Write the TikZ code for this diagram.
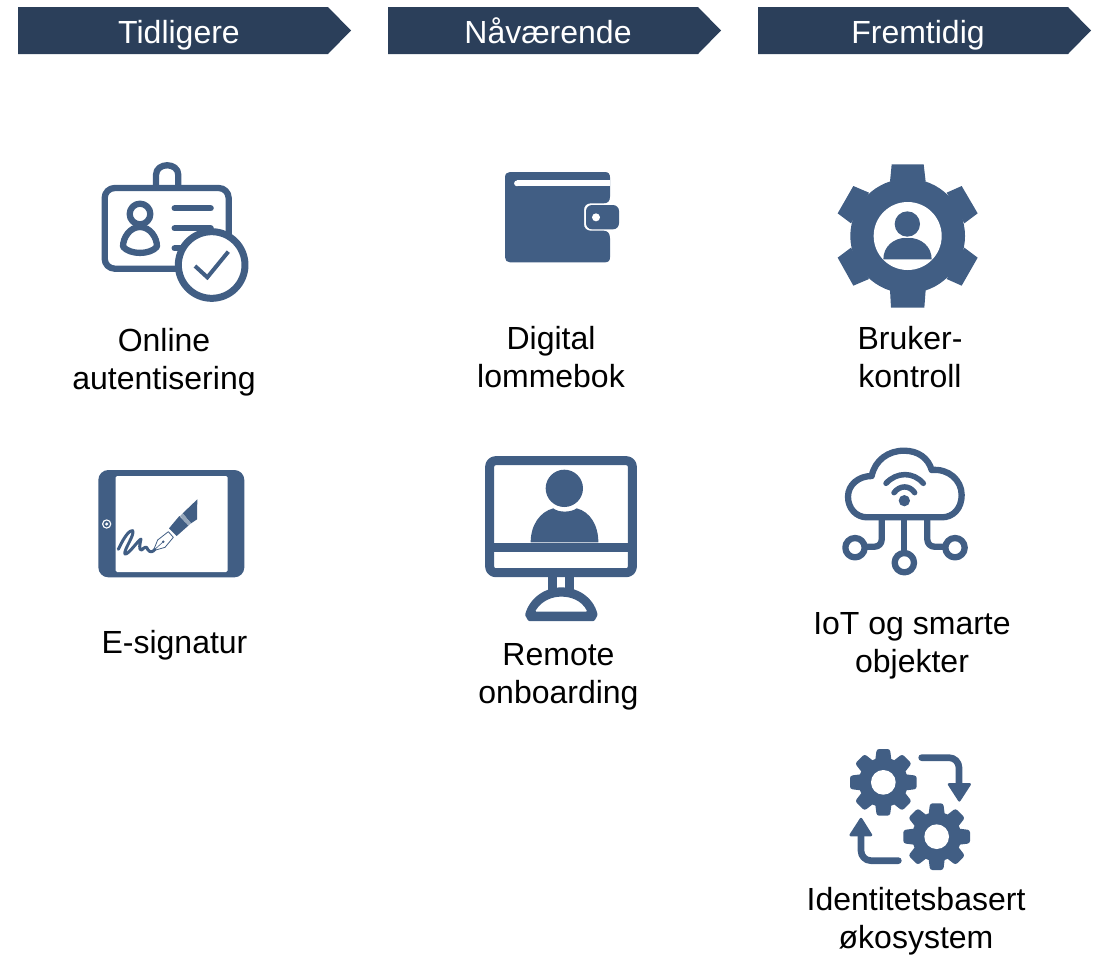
\documentclass[tikz,border=0pt]{standalone}
\usepackage{fontspec}
\setmainfont{Liberation Sans}
\definecolor{iconblue}{HTML}{415E84}
\definecolor{bannerblue}{HTML}{2B3F5A}
\tikzset{
  banner/.style={fill=bannerblue,draw=none},
  bannertext/.style={text=white,font=\fontsize{32}{38}\selectfont,inner sep=0pt,anchor=base},
  label/.style={text=black,font=\fontsize{32}{38}\selectfont,align=center,inner sep=0pt,anchor=center,text height=23pt,text depth=7pt},
  icon/.style={shift={#1},x=0.33333pt,y=-0.33333pt},
  ln/.style={draw=iconblue,line width=6.3pt,line cap=round,line join=round},
  fl/.style={fill=iconblue,draw=none}
}
\begin{document}
\begin{tikzpicture}[x=1pt,y=-1pt]
\useasboundingbox (0,0) rectangle (1099,954);
% banners
\foreach \x in {18,388,758}{
  \fill[banner] (\x,7) -- ++(310,0) -- ++(23,23.5) -- ++(-23,23.5) -- ++(-310,0) -- cycle;
}
\node[bannertext] (b1) at (179,43) {Tidligere};
\node[bannertext] (b2) at (548,43) {Nåværende};
\node[bannertext] (b3) at (918,43) {Fremtidig};
% labels
\node[label] (l1) at (164,381) {Online\\autentisering};
\node[label] (l2) at (174.5,645) {E-signatur};
\node[label] (l3) at (551,379) {Digital\\lommebok};
\node[label] (l4) at (558.5,695) {Remote\\onboarding};
\node[label] (l5) at (910,379) {Bruker-\\kontroll};
\node[label] (l6) at (912,664) {IoT og smarte\\objekter};
\node[label] (l7) at (916,940) {Identitetsbasert\\økosystem};

% ID card
\begin{scope}[icon={(80,150)}]
  \draw[ln] (228,105) -- (228,75) .. controls (228,36) and (295,36) .. (295,75) -- (295,105);
  \draw[ln,rounded corners=10pt] (74,114) rectangle (446,356);
  \draw[ln] (180,192) circle (31);
  \draw[ln] (180,231) .. controls (150,231) and (129,262) .. (129,290) .. controls (150,315) and (210,315) .. (231,290) .. controls (231,262) and (210,231) .. (180,231) -- cycle;
  \draw[ln] (284,175) -- (392,175);
  \draw[ln] (284,235) -- (392,235);
  \draw[ln] (284,295) -- (340,295);
  \draw[ln,line width=7pt,fill=white] (395,345) circle (100);
  \draw[draw=iconblue,line width=4pt,line join=miter] (345,348) -- (382,382) -- (445,305);
\end{scope}

% tablet
\begin{scope}[icon={(85,460)}]
  \fill[fl,rounded corners=10pt] (40,30) rectangle (478,352);
  \fill[white,rounded corners=1.5pt] (92,48) rectangle (428,336);
  \fill[white] (65,192) circle (14);
  \fill[fl] (65,192) circle (10);
  \fill[white] (65,192) circle (5);
  \fill[fl] (337,118) -- (336,178) -- (318,190) -- (293,160) -- cycle;
  \fill[iconblue!55] (293,160) -- (318,190) -- (310,197) -- (285,168) -- cycle;
  \fill[fl] (283,168) -- (310,197) -- (275,228) -- (252,205) -- cycle;
  \draw[iconblue,line width=0.8pt,fill=white,line join=round] (250,215) -- (265,232) -- (240,262) -- (205,272) -- (218,240) -- cycle;
  \draw[iconblue,line width=0.6pt] (205,272) -- (235,245);
  \fill[fl] (235,245) circle (4);
  \draw[iconblue,line width=3pt,line cap=round,line join=round]
    (100,268) .. controls (120,225) and (135,210) .. (143,212)
    .. controls (150,225) and (115,270) .. (120,282)
    .. controls (130,285) and (160,240) .. (168,237)
    .. controls (165,250) and (160,272) .. (170,270)
    .. controls (180,260) and (185,258) .. (188,268)
    .. controls (195,280) and (205,275) .. (210,268);
\end{scope}

% wallet
\begin{scope}[icon={(475,160)}]
  \fill[fl] (105,36) -- (390,36) .. controls (400,36) and (405,42) .. (405,52)
    -- (405,110) .. controls (405,124) and (398,130) .. (385,130)
    -- (347,130) .. controls (335,130) and (327,138) .. (327,150)
    -- (327,192) .. controls (327,204) and (335,212) .. (347,212)
    -- (385,212) .. controls (398,212) and (405,220) .. (405,235)
    -- (405,292) .. controls (405,302) and (400,307) .. (390,307)
    -- (105,307) .. controls (96,307) and (90,301) .. (90,292)
    -- (90,52) .. controls (90,42) and (96,36) .. (105,36) -- cycle;
  \fill[fl,rounded corners=6pt] (333,135) rectangle (432,208);
  \fill[white] (363,172) circle (12);
  \draw[white,line width=5.8pt,line cap=butt] (126,70) -- (405,70);
  \fill[white] (126,70) circle (8.7);
\end{scope}

% monitor
\begin{scope}[icon={(475,450)}]
  \draw[ln,line width=9pt,line cap=butt,rounded corners=6pt] (44,32) rectangle (472,368);
  \draw[ln,line width=9pt,line cap=butt] (44,291) -- (472,291);
  \fill[fl] (167,277) .. controls (167,225) and (195,185) .. (235,175) .. controls (250,188) and (288,188) .. (305,175) .. controls (345,185) and (370,225) .. (370,277) -- cycle;
  \fill[fl] (268,115) circle (56);
  \draw[ln,line width=9pt,line cap=butt] (233,380) -- (233,420);
  \draw[ln,line width=9pt,line cap=butt] (284,380) -- (284,420);
  \fill[fl,even odd rule,rounded corners=1pt] (160,513) -- (150,495) .. controls (165,440) and (215,412) .. (259,412) .. controls (305,412) and (355,440) .. (368,495) -- (358,513) -- cycle
     (180,485) .. controls (200,450) and (235,440) .. (259,440) .. controls (285,440) and (320,450) .. (337,485) -- cycle;
\end{scope}

% user gear
\begin{scope}[icon={(825,155)}]
  \fill[fl] (248,243) circle (172);
  \fill[fl] (200,28) -- (296,28) -- (302,80) -- (195,80) -- cycle;
  \fill[fl] (198,458) -- (298,458) -- (302,405) -- (195,405) -- cycle;
  \fill[fl] (85,93) -- (38,175) -- (78,205) -- (132,113) -- cycle;
  \fill[fl] (410,93) -- (458,175) -- (418,205) -- (365,113) -- cycle;
  \fill[fl] (38,308) -- (85,392) -- (132,372) -- (78,278) -- cycle;
  \fill[fl] (458,308) -- (410,392) -- (365,372) -- (418,278) -- cycle;
  \fill[white] (248,243) circle (102);
  \fill[fl] (175,313) .. controls (175,275) and (205,248) .. (247,248) .. controls (290,248) and (320,275) .. (320,313) -- cycle;
  \fill[white] (247,207) circle (42);
  \fill[fl] (247,207) circle (38);
\end{scope}

% cloud
\begin{scope}[icon={(830,440)}]
  \draw[ln] (112,232) .. controls (78,232) and (54,205) .. (54,170)
    .. controls (54,135) and (85,108) .. (125,108)
    .. controls (135,60) and (175,32) .. (222,32)
    .. controls (265,32) and (295,55) .. (305,90)
    .. controls (355,85) and (395,120) .. (395,165)
    .. controls (395,205) and (370,232) .. (335,232) -- cycle;
  \draw[ln,line width=5.5pt] (168,130) .. controls (200,95) and (250,95) .. (280,130);
  \draw[ln,line width=5.5pt] (192,158) .. controls (210,135) and (238,135) .. (254,158);
  \fill[fl] (223,182) circle (17);
  \draw[ln,line cap=butt] (223,232) -- (223,345);
  \draw[ln,line cap=butt,rounded corners=7pt] (155,232) -- (155,320) -- (100,320);
  \draw[ln,line cap=butt,rounded corners=7pt] (292,232) -- (292,320) -- (350,320);
  \draw[ln,fill=white] (223,368) circle (29);
  \draw[ln,fill=white] (75,323) circle (29);
  \draw[ln,fill=white] (375,323) circle (29);
\end{scope}

% process gears
\begin{scope}[icon={(835,740)}]
  \foreach \cx/\cy in {145/127,305/290}{
    \fill[fl] (\cx,\cy) circle (74);
    \foreach \a in {0,45,...,315}{
      \fill[fl,shift={(\cx,\cy)},rotate=\a,rounded corners=2.5pt] (-25,-60) -- (-20,-100) -- (20,-100) -- (25,-60) -- cycle;
    }
    \fill[white] (\cx,\cy) circle (37);
  }
  \draw[ln,line width=6.7pt,line cap=round,rounded corners=10pt] (260,53) -- (372,53) -- (372,130);
  \fill[fl,draw=iconblue,line width=2.5pt,line join=round] (342,133) -- (404,133) -- (373,181) -- cycle;
  \draw[ln,line width=6.7pt,line cap=round,rounded corners=10pt] (190,362) -- (78,362) -- (78,285);
  \fill[fl,draw=iconblue,line width=2.5pt,line join=round] (47,285) -- (108,285) -- (78,237) -- cycle;
\end{scope}
\end{tikzpicture}
\end{document}
